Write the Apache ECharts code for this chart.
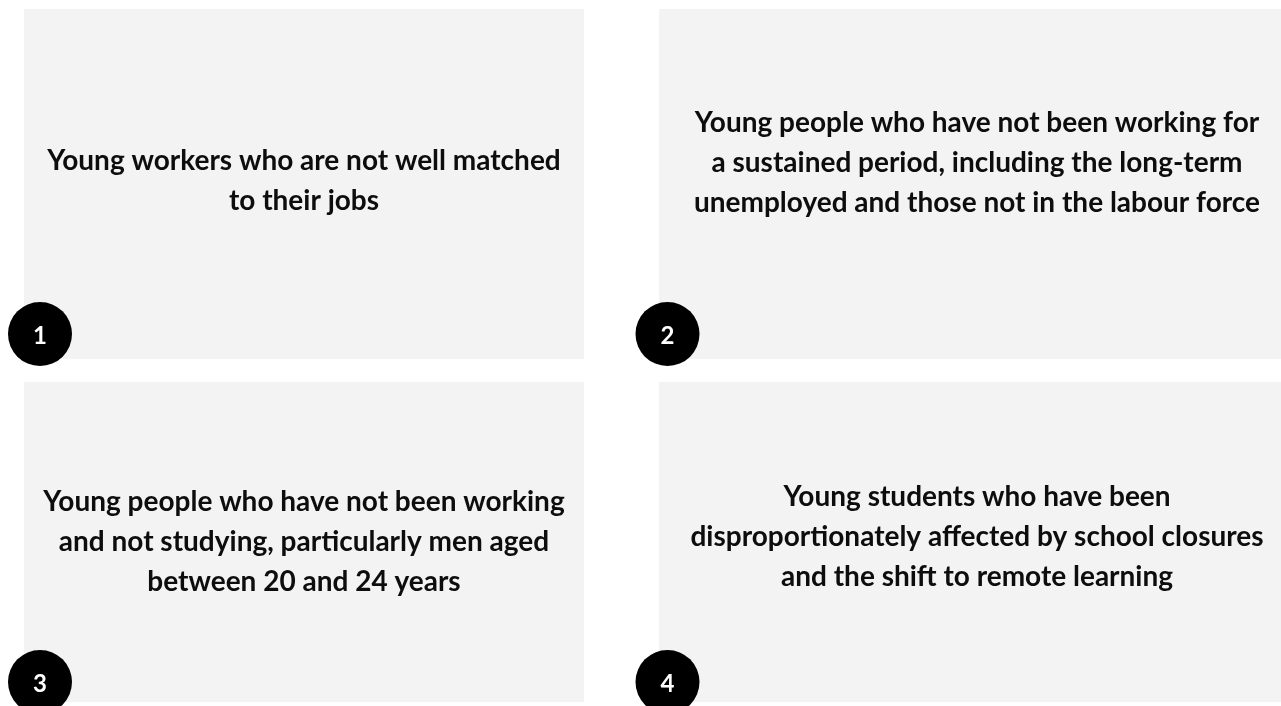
<!DOCTYPE html>
<html>
<head>
<meta charset="utf-8">
<title>Young people most affected</title>
<script src="https://cdn.jsdelivr.net/npm/echarts@6/dist/echarts.min.js"></script>
<style>
  html, body { margin: 0; padding: 0; background: #fff; }
  #chart { width: 1281px; height: 706px; }
</style>
</head>
<body>
<div id="chart"></div>
<script>
  // the four groups, in reading order
  const panelNumbers = ['1', '2', '3', '4']
  const panelTexts = [
    'Young workers who are not well matched\nto their jobs',
    'Young people who have not been working for\na sustained period, including the long-term\nunemployed and those not in the labour force',
    'Young people who have not been working\nand not studying, particularly men aged\nbetween 20 and 24 years',
    'Young students who have been\ndisproportionately affected by school closures\nand the shift to remote learning'
  ]

  // layout of each card: [left, top, width, height, textCenterX, textCenterY]
  const cards = [
    [24, 9, 560, 350, 304, 181],
    [659, 9, 622, 350, 977, 163],
    [24, 382, 560, 320, 304, 542],
    [659, 382, 622, 320, 977, 537]
  ]

  const chart = echarts.init(document.getElementById('chart'))
  const elements = []

  cards.forEach((c, i) => {
    elements.push({
      type: 'rect',
      shape: { x: c[0], y: c[1], width: c[2], height: c[3] },
      style: { fill: '#f3f3f3' },
      z: 1
    })
    elements.push({
      type: 'text',
      x: c[4],
      y: c[5],
      style: {
        text: panelTexts[i],
        fill: '#0d0d0d',
        font: 'bold 28px Lato',
        lineHeight: 40,
        align: 'center',
        verticalAlign: 'middle'
      },
      z: 2
    })
    // numbered badge sits over the bottom-left corner
    const bx = i % 2 === 0 ? 40 : 667.5
    const by = i < 2 ? 334 : 682
    elements.push({
      type: 'circle',
      shape: { cx: bx, cy: by, r: 32 },
      style: { fill: '#000' },
      z: 3
    })
    elements.push({
      type: 'text',
      x: bx,
      y: by + 2,
      style: {
        text: panelNumbers[i],
        fill: '#fff',
        font: 'bold 24px Lato',
        align: 'center',
        verticalAlign: 'middle'
      },
      z: 4
    })
  })

  chart.setOption({
    backgroundColor: '#fff',
    graphic: { elements: elements }
  })
</script>
</body>
</html>
